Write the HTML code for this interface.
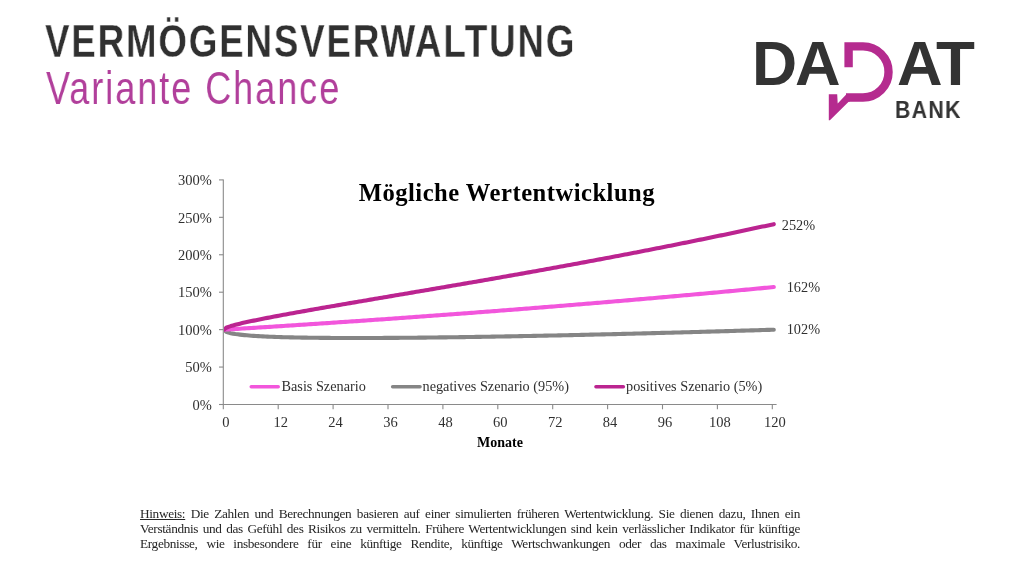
<!DOCTYPE html>
<html><head><meta charset="utf-8">
<style>
html,body{margin:0;padding:0;background:#fff;}
body{width:1024px;height:574px;position:relative;overflow:hidden;}
.a{position:absolute;white-space:nowrap;line-height:1;will-change:transform;}
#t1{left:45.4px;top:14.1px;font:bold 46.4px "Liberation Sans",sans-serif;letter-spacing:2.38px;color:#303030;transform:scaleX(0.790);transform-origin:0 0;-webkit-text-stroke:0.3px #fff;}
#t2{left:46.3px;top:61.0px;font:46.5px "Liberation Sans",sans-serif;letter-spacing:2.56px;color:#b13f9b;transform:scaleX(0.774);transform-origin:0 0;}
.logo{font-family:"Liberation Sans",sans-serif;font-weight:bold;color:#333;}
#lD{left:751.5px;top:31.8px;font-size:62.5px;transform:scaleX(0.995);transform-origin:0 0;}
#lA{left:794.5px;top:31.8px;font-size:62.5px;transform:scaleX(1.01);transform-origin:0 0;}
#lA2{left:896.8px;top:31.8px;font-size:62.5px;transform:scaleX(1.01);transform-origin:0 0;}
#lT{left:935.9px;top:31.8px;font-size:62.5px;transform:scaleX(1.02);transform-origin:0 0;}
#bank{left:894.5px;top:99.4px;font-size:23.2px;letter-spacing:1.47px;transform:scaleX(0.915);transform-origin:0 0;}
#note{will-change:transform;position:absolute;left:140px;top:505.9px;width:660px;font:13.3px/15px "Liberation Serif",serif;letter-spacing:-0.35px;color:#262626;text-align:justify;text-align-last:justify;}
#note u{text-decoration:underline;}
svg{position:absolute;left:0;top:0;will-change:transform;}
</style></head><body>
<div class="a" id="t1">VERMÖGENSVERWALTUNG</div>
<div class="a" id="t2">Variante Chance</div>
<div class="a logo" id="lD">D</div>
<div class="a logo" id="lA">A</div>
<div class="a logo" id="lA2">A</div>
<div class="a logo" id="lT">T</div>
<div class="a logo" id="bank">BANK</div>
<svg width="1024" height="574" viewBox="0 0 1024 574">
  <g fill="none" stroke="#b52b8f" stroke-width="8.4">
    <path d="M848.6 67.2 V46.4 H863 A25.55 25.55 0 0 1 863 97.5 H846"/>
  </g>
  <polygon fill="#b52b8f" points="828.8,94.2 837.2,94.2 837.7,103.4 846.4,94.2 850,94.2 850,101.5 848.9,101.5 829.9,120.3 828.8,120.3"/>
</svg>
<svg id="chart" width="1024" height="574" viewBox="0 0 1024 574">
<g stroke="#8a8a8a" stroke-width="1.1" fill="none">
<line x1="223.3" y1="179.4" x2="223.3" y2="405"/>
<line x1="219" y1="404.5" x2="776.6" y2="404.5"/>
<line x1="219" y1="179.90" x2="223.3" y2="179.90"/><line x1="219" y1="217.33" x2="223.3" y2="217.33"/><line x1="219" y1="254.77" x2="223.3" y2="254.77"/><line x1="219" y1="292.20" x2="223.3" y2="292.20"/><line x1="219" y1="329.63" x2="223.3" y2="329.63"/><line x1="219" y1="367.06" x2="223.3" y2="367.06"/><line x1="219" y1="404.50" x2="223.3" y2="404.50"/><line x1="223.30" y1="404.5" x2="223.30" y2="409.3"/><line x1="278.20" y1="404.5" x2="278.20" y2="409.3"/><line x1="333.10" y1="404.5" x2="333.10" y2="409.3"/><line x1="388.00" y1="404.5" x2="388.00" y2="409.3"/><line x1="442.90" y1="404.5" x2="442.90" y2="409.3"/><line x1="497.80" y1="404.5" x2="497.80" y2="409.3"/><line x1="552.70" y1="404.5" x2="552.70" y2="409.3"/><line x1="607.60" y1="404.5" x2="607.60" y2="409.3"/><line x1="662.50" y1="404.5" x2="662.50" y2="409.3"/><line x1="717.40" y1="404.5" x2="717.40" y2="409.3"/><line x1="772.30" y1="404.5" x2="772.30" y2="409.3"/>
</g>
<g font-family="Liberation Serif, serif" fill="#303030">
<g font-size="14.5"><text x="211.8" y="185.10" text-anchor="end">300%</text><text x="211.8" y="222.53" text-anchor="end">250%</text><text x="211.8" y="259.97" text-anchor="end">200%</text><text x="211.8" y="297.40" text-anchor="end">150%</text><text x="211.8" y="334.83" text-anchor="end">100%</text><text x="211.8" y="372.26" text-anchor="end">50%</text><text x="211.8" y="409.70" text-anchor="end">0%</text></g>
<g font-size="14.5"><text x="225.80" y="426.9" text-anchor="middle">0</text><text x="280.70" y="426.9" text-anchor="middle">12</text><text x="335.60" y="426.9" text-anchor="middle">24</text><text x="390.50" y="426.9" text-anchor="middle">36</text><text x="445.40" y="426.9" text-anchor="middle">48</text><text x="500.30" y="426.9" text-anchor="middle">60</text><text x="555.20" y="426.9" text-anchor="middle">72</text><text x="610.10" y="426.9" text-anchor="middle">84</text><text x="665.00" y="426.9" text-anchor="middle">96</text><text x="719.90" y="426.9" text-anchor="middle">108</text><text x="774.80" y="426.9" text-anchor="middle">120</text></g>
</g>
<text x="358.7" y="200.8" font-family="Liberation Serif, serif" font-size="24.6" letter-spacing="0.5" font-weight="bold" fill="#000">Mögliche Wertentwicklung</text>
<text x="500" y="446.5" text-anchor="middle" font-family="Liberation Serif, serif" font-size="14" font-weight="bold" fill="#000">Monate</text>
<defs><clipPath id="pc"><rect x="223.9" y="150" width="600" height="260"/></clipPath></defs>
<g fill="none" stroke-width="4.1" stroke-linecap="round" stroke-linejoin="round" clip-path="url(#pc)">
<path d="M223.90,329.70 L226.19,331.83 L228.48,332.62 L230.77,333.18 L233.06,333.63 L235.36,334.01 L237.65,334.33 L239.94,334.62 L242.23,334.87 L244.52,335.10 L246.81,335.31 L249.10,335.50 L251.40,335.67 L253.69,335.84 L255.98,335.99 L258.27,336.12 L260.56,336.25 L262.85,336.38 L265.14,336.49 L267.43,336.59 L269.73,336.69 L272.02,336.79 L274.31,336.88 L276.60,336.96 L278.89,337.04 L281.18,337.11 L283.47,337.18 L285.76,337.24 L288.06,337.30 L290.35,337.36 L292.64,337.41 L294.93,337.46 L297.22,337.51 L299.51,337.56 L301.80,337.60 L304.09,337.64 L306.38,337.67 L308.68,337.71 L310.97,337.74 L313.26,337.77 L315.55,337.80 L317.84,337.82 L320.13,337.84 L322.42,337.87 L324.72,337.89 L327.01,337.90 L329.30,337.92 L331.59,337.94 L333.88,337.95 L336.17,337.96 L338.46,337.97 L340.75,337.98 L343.04,337.99 L345.34,337.99 L347.63,338.00 L349.92,338.00 L352.21,338.00 L354.50,338.00 L356.79,338.00 L359.08,338.00 L361.38,338.00 L363.67,338.00 L365.96,337.99 L368.25,337.99 L370.54,337.98 L372.83,337.97 L375.12,337.96 L377.41,337.95 L379.70,337.94 L382.00,337.93 L384.29,337.92 L386.58,337.91 L388.87,337.90 L391.16,337.88 L393.45,337.87 L395.74,337.85 L398.03,337.83 L400.33,337.82 L402.62,337.80 L404.91,337.78 L407.20,337.76 L409.49,337.74 L411.78,337.72 L414.07,337.70 L416.37,337.68 L418.66,337.65 L420.95,337.63 L423.24,337.61 L425.53,337.58 L427.82,337.56 L430.11,337.53 L432.40,337.50 L434.69,337.48 L436.99,337.45 L439.28,337.42 L441.57,337.39 L443.86,337.36 L446.15,337.33 L448.44,337.30 L450.73,337.27 L453.02,337.24 L455.32,337.21 L457.61,337.18 L459.90,337.15 L462.19,337.11 L464.48,337.08 L466.77,337.05 L469.06,337.01 L471.36,336.98 L473.65,336.94 L475.94,336.91 L478.23,336.87 L480.52,336.84 L482.81,336.80 L485.10,336.76 L487.39,336.72 L489.68,336.69 L491.98,336.65 L494.27,336.61 L496.56,336.57 L498.85,336.53 L501.14,336.49 L503.43,336.45 L505.72,336.41 L508.01,336.37 L510.31,336.33 L512.60,336.28 L514.89,336.24 L517.18,336.20 L519.47,336.16 L521.76,336.11 L524.05,336.07 L526.35,336.03 L528.64,335.98 L530.93,335.94 L533.22,335.89 L535.51,335.85 L537.80,335.80 L540.09,335.76 L542.38,335.71 L544.67,335.66 L546.97,335.62 L549.26,335.57 L551.55,335.52 L553.84,335.48 L556.13,335.43 L558.42,335.38 L560.71,335.33 L563.00,335.28 L565.30,335.23 L567.59,335.18 L569.88,335.13 L572.17,335.08 L574.46,335.03 L576.75,334.98 L579.04,334.93 L581.33,334.88 L583.63,334.83 L585.92,334.78 L588.21,334.72 L590.50,334.67 L592.79,334.62 L595.08,334.57 L597.37,334.51 L599.66,334.46 L601.96,334.41 L604.25,334.35 L606.54,334.30 L608.83,334.24 L611.12,334.19 L613.41,334.13 L615.70,334.08 L618.00,334.02 L620.29,333.97 L622.58,333.91 L624.87,333.86 L627.16,333.80 L629.45,333.74 L631.74,333.68 L634.03,333.63 L636.32,333.57 L638.62,333.51 L640.91,333.45 L643.20,333.40 L645.49,333.34 L647.78,333.28 L650.07,333.22 L652.36,333.16 L654.65,333.10 L656.95,333.04 L659.24,332.98 L661.53,332.92 L663.82,332.86 L666.11,332.80 L668.40,332.74 L670.69,332.68 L672.99,332.62 L675.28,332.56 L677.57,332.49 L679.86,332.43 L682.15,332.37 L684.44,332.31 L686.73,332.24 L689.02,332.18 L691.31,332.12 L693.61,332.05 L695.90,331.99 L698.19,331.93 L700.48,331.86 L702.77,331.80 L705.06,331.73 L707.35,331.67 L709.64,331.61 L711.94,331.54 L714.23,331.47 L716.52,331.41 L718.81,331.34 L721.10,331.28 L723.39,331.21 L725.68,331.14 L727.97,331.08 L730.27,331.01 L732.56,330.94 L734.85,330.88 L737.14,330.81 L739.43,330.74 L741.72,330.67 L744.01,330.61 L746.30,330.54 L748.60,330.47 L750.89,330.40 L753.18,330.33 L755.47,330.26 L757.76,330.19 L760.05,330.12 L762.34,330.05 L764.63,329.98 L766.93,329.91 L769.22,329.84 L771.51,329.77 L773.80,329.70" stroke="#858585"/>
<path d="M223.90,329.70 L226.19,329.56 L228.48,329.42 L230.77,329.28 L233.06,329.14 L235.36,328.99 L237.65,328.85 L239.94,328.71 L242.23,328.57 L244.52,328.42 L246.81,328.28 L249.10,328.14 L251.40,327.99 L253.69,327.85 L255.98,327.70 L258.27,327.56 L260.56,327.41 L262.85,327.27 L265.14,327.12 L267.43,326.98 L269.73,326.83 L272.02,326.69 L274.31,326.54 L276.60,326.39 L278.89,326.25 L281.18,326.10 L283.47,325.95 L285.76,325.80 L288.06,325.65 L290.35,325.51 L292.64,325.36 L294.93,325.21 L297.22,325.06 L299.51,324.91 L301.80,324.76 L304.09,324.61 L306.38,324.46 L308.68,324.31 L310.97,324.16 L313.26,324.01 L315.55,323.85 L317.84,323.70 L320.13,323.55 L322.42,323.40 L324.72,323.25 L327.01,323.09 L329.30,322.94 L331.59,322.79 L333.88,322.63 L336.17,322.48 L338.46,322.32 L340.75,322.17 L343.04,322.01 L345.34,321.86 L347.63,321.70 L349.92,321.55 L352.21,321.39 L354.50,321.23 L356.79,321.08 L359.08,320.92 L361.38,320.76 L363.67,320.60 L365.96,320.45 L368.25,320.29 L370.54,320.13 L372.83,319.97 L375.12,319.81 L377.41,319.65 L379.70,319.49 L382.00,319.33 L384.29,319.17 L386.58,319.01 L388.87,318.85 L391.16,318.69 L393.45,318.53 L395.74,318.37 L398.03,318.20 L400.33,318.04 L402.62,317.88 L404.91,317.72 L407.20,317.55 L409.49,317.39 L411.78,317.22 L414.07,317.06 L416.37,316.90 L418.66,316.73 L420.95,316.57 L423.24,316.40 L425.53,316.23 L427.82,316.07 L430.11,315.90 L432.40,315.73 L434.69,315.57 L436.99,315.40 L439.28,315.23 L441.57,315.06 L443.86,314.90 L446.15,314.73 L448.44,314.56 L450.73,314.39 L453.02,314.22 L455.32,314.05 L457.61,313.88 L459.90,313.71 L462.19,313.54 L464.48,313.37 L466.77,313.19 L469.06,313.02 L471.36,312.85 L473.65,312.68 L475.94,312.50 L478.23,312.33 L480.52,312.16 L482.81,311.98 L485.10,311.81 L487.39,311.64 L489.68,311.46 L491.98,311.29 L494.27,311.11 L496.56,310.93 L498.85,310.76 L501.14,310.58 L503.43,310.40 L505.72,310.23 L508.01,310.05 L510.31,309.87 L512.60,309.69 L514.89,309.52 L517.18,309.34 L519.47,309.16 L521.76,308.98 L524.05,308.80 L526.35,308.62 L528.64,308.44 L530.93,308.26 L533.22,308.08 L535.51,307.89 L537.80,307.71 L540.09,307.53 L542.38,307.35 L544.67,307.16 L546.97,306.98 L549.26,306.80 L551.55,306.61 L553.84,306.43 L556.13,306.25 L558.42,306.06 L560.71,305.87 L563.00,305.69 L565.30,305.50 L567.59,305.32 L569.88,305.13 L572.17,304.94 L574.46,304.76 L576.75,304.57 L579.04,304.38 L581.33,304.19 L583.63,304.00 L585.92,303.81 L588.21,303.62 L590.50,303.43 L592.79,303.24 L595.08,303.05 L597.37,302.86 L599.66,302.67 L601.96,302.48 L604.25,302.29 L606.54,302.09 L608.83,301.90 L611.12,301.71 L613.41,301.51 L615.70,301.32 L618.00,301.13 L620.29,300.93 L622.58,300.74 L624.87,300.54 L627.16,300.35 L629.45,300.15 L631.74,299.95 L634.03,299.76 L636.32,299.56 L638.62,299.36 L640.91,299.16 L643.20,298.97 L645.49,298.77 L647.78,298.57 L650.07,298.37 L652.36,298.17 L654.65,297.97 L656.95,297.77 L659.24,297.57 L661.53,297.37 L663.82,297.16 L666.11,296.96 L668.40,296.76 L670.69,296.56 L672.99,296.35 L675.28,296.15 L677.57,295.95 L679.86,295.74 L682.15,295.54 L684.44,295.33 L686.73,295.13 L689.02,294.92 L691.31,294.71 L693.61,294.51 L695.90,294.30 L698.19,294.09 L700.48,293.89 L702.77,293.68 L705.06,293.47 L707.35,293.26 L709.64,293.05 L711.94,292.84 L714.23,292.63 L716.52,292.42 L718.81,292.21 L721.10,292.00 L723.39,291.79 L725.68,291.57 L727.97,291.36 L730.27,291.15 L732.56,290.93 L734.85,290.72 L737.14,290.51 L739.43,290.29 L741.72,290.08 L744.01,289.86 L746.30,289.65 L748.60,289.43 L750.89,289.21 L753.18,289.00 L755.47,288.78 L757.76,288.56 L760.05,288.34 L762.34,288.12 L764.63,287.90 L766.93,287.69 L769.22,287.47 L771.51,287.24 L773.80,287.02" stroke="#f256dc"/>
<path d="M223.90,329.70 L226.19,327.76 L228.48,326.85 L230.77,326.09 L233.06,325.42 L235.36,324.80 L237.65,324.21 L239.94,323.65 L242.23,323.12 L244.52,322.59 L246.81,322.08 L249.10,321.59 L251.40,321.10 L253.69,320.62 L255.98,320.15 L258.27,319.68 L260.56,319.22 L262.85,318.77 L265.14,318.32 L267.43,317.87 L269.73,317.43 L272.02,316.99 L274.31,316.55 L276.60,316.12 L278.89,315.69 L281.18,315.27 L283.47,314.84 L285.76,314.42 L288.06,314.00 L290.35,313.58 L292.64,313.17 L294.93,312.75 L297.22,312.34 L299.51,311.93 L301.80,311.52 L304.09,311.11 L306.38,310.70 L308.68,310.30 L310.97,309.89 L313.26,309.49 L315.55,309.08 L317.84,308.68 L320.13,308.28 L322.42,307.88 L324.72,307.48 L327.01,307.09 L329.30,306.69 L331.59,306.29 L333.88,305.90 L336.17,305.50 L338.46,305.11 L340.75,304.71 L343.04,304.32 L345.34,303.92 L347.63,303.53 L349.92,303.14 L352.21,302.75 L354.50,302.36 L356.79,301.97 L359.08,301.58 L361.38,301.19 L363.67,300.80 L365.96,300.41 L368.25,300.02 L370.54,299.63 L372.83,299.24 L375.12,298.85 L377.41,298.46 L379.70,298.07 L382.00,297.68 L384.29,297.29 L386.58,296.91 L388.87,296.52 L391.16,296.13 L393.45,295.74 L395.74,295.35 L398.03,294.96 L400.33,294.58 L402.62,294.19 L404.91,293.80 L407.20,293.41 L409.49,293.02 L411.78,292.63 L414.07,292.24 L416.37,291.85 L418.66,291.47 L420.95,291.08 L423.24,290.69 L425.53,290.30 L427.82,289.91 L430.11,289.52 L432.40,289.13 L434.69,288.74 L436.99,288.35 L439.28,287.95 L441.57,287.56 L443.86,287.17 L446.15,286.78 L448.44,286.39 L450.73,285.99 L453.02,285.60 L455.32,285.21 L457.61,284.81 L459.90,284.42 L462.19,284.03 L464.48,283.63 L466.77,283.24 L469.06,282.84 L471.36,282.44 L473.65,282.05 L475.94,281.65 L478.23,281.25 L480.52,280.86 L482.81,280.46 L485.10,280.06 L487.39,279.66 L489.68,279.26 L491.98,278.86 L494.27,278.46 L496.56,278.06 L498.85,277.66 L501.14,277.25 L503.43,276.85 L505.72,276.45 L508.01,276.04 L510.31,275.64 L512.60,275.24 L514.89,274.83 L517.18,274.42 L519.47,274.02 L521.76,273.61 L524.05,273.20 L526.35,272.79 L528.64,272.39 L530.93,271.98 L533.22,271.57 L535.51,271.16 L537.80,270.74 L540.09,270.33 L542.38,269.92 L544.67,269.51 L546.97,269.09 L549.26,268.68 L551.55,268.26 L553.84,267.85 L556.13,267.43 L558.42,267.01 L560.71,266.59 L563.00,266.18 L565.30,265.76 L567.59,265.34 L569.88,264.92 L572.17,264.49 L574.46,264.07 L576.75,263.65 L579.04,263.23 L581.33,262.80 L583.63,262.38 L585.92,261.95 L588.21,261.52 L590.50,261.10 L592.79,260.67 L595.08,260.24 L597.37,259.81 L599.66,259.38 L601.96,258.95 L604.25,258.52 L606.54,258.09 L608.83,257.65 L611.12,257.22 L613.41,256.78 L615.70,256.35 L618.00,255.91 L620.29,255.47 L622.58,255.03 L624.87,254.60 L627.16,254.16 L629.45,253.71 L631.74,253.27 L634.03,252.83 L636.32,252.39 L638.62,251.94 L640.91,251.50 L643.20,251.05 L645.49,250.61 L647.78,250.16 L650.07,249.71 L652.36,249.26 L654.65,248.81 L656.95,248.36 L659.24,247.91 L661.53,247.46 L663.82,247.00 L666.11,246.55 L668.40,246.09 L670.69,245.64 L672.99,245.18 L675.28,244.72 L677.57,244.26 L679.86,243.80 L682.15,243.34 L684.44,242.88 L686.73,242.42 L689.02,241.96 L691.31,241.49 L693.61,241.03 L695.90,240.56 L698.19,240.09 L700.48,239.63 L702.77,239.16 L705.06,238.69 L707.35,238.22 L709.64,237.74 L711.94,237.27 L714.23,236.80 L716.52,236.32 L718.81,235.85 L721.10,235.37 L723.39,234.89 L725.68,234.41 L727.97,233.94 L730.27,233.45 L732.56,232.97 L734.85,232.49 L737.14,232.01 L739.43,231.52 L741.72,231.04 L744.01,230.55 L746.30,230.06 L748.60,229.57 L750.89,229.08 L753.18,228.59 L755.47,228.10 L757.76,227.61 L760.05,227.12 L762.34,226.62 L764.63,226.13 L766.93,225.63 L769.22,225.13 L771.51,224.63 L773.80,224.13" stroke="#bb2490"/>
</g>
<g stroke-width="3.4" fill="none" stroke-linecap="round">
<line x1="251.2" y1="386.7" x2="278.3" y2="386.7" stroke="#f256dc"/>
<line x1="392.6" y1="386.7" x2="420.1" y2="386.7" stroke="#858585"/>
<line x1="595.9" y1="386.7" x2="623.4" y2="386.7" stroke="#bb2490"/>
</g>
<g font-family="Liberation Serif, serif" font-size="14.25" fill="#303030">
<text x="281.5" y="390.9">Basis Szenario</text>
<text x="422.5" y="390.9">negatives Szenario (95%)</text>
<text x="626" y="390.9">positives Szenario (5%)</text>
</g>
<g font-family="Liberation Serif, serif" font-size="14.3" fill="#303030">
<text x="781.8" y="229.8">252%</text>
<text x="786.7" y="292.4">162%</text>
<text x="786.7" y="334.3">102%</text>
</g>
</svg>
<div id="note"><u>Hinweis:</u> Die Zahlen und Berechnungen basieren auf einer simulierten früheren Wertentwicklung. Sie dienen dazu, Ihnen ein Verständnis und das Gefühl des Risikos zu vermitteln. Frühere Wertentwicklungen sind kein verlässlicher Indikator für künftige Ergebnisse, wie insbesondere für eine künftige Rendite, künftige Wertschwankungen oder das maximale Verlustrisiko.</div>
</body></html>
